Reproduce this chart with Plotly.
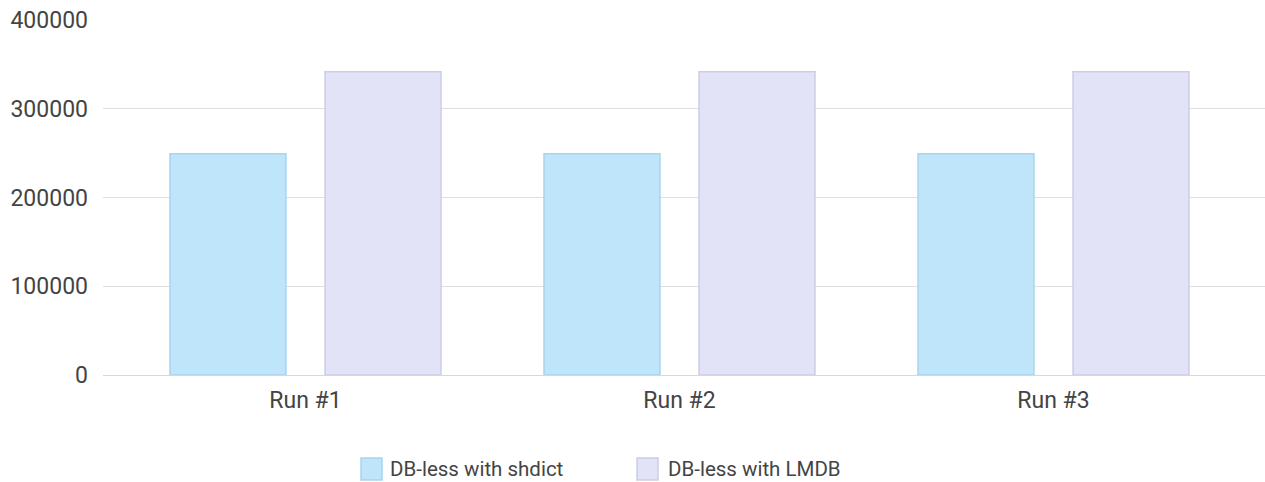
import plotly.graph_objects as go

# Benchmark runs and throughput per configuration
runs = ["Run #1", "Run #2", "Run #3"]
shdict_values = [249400, 249400, 249400]
lmdb_values = [341600, 341600, 341600]
series_names = ["DB-less with shdict", "DB-less with LMDB"]
y_ticks = [0, 100000, 200000, 300000, 400000]

fill_colors = ["#bfe5fb", "#e3e3f8"]
line_colors = ["#a9d4ee", "#cdcde6"]
font_family = "Roboto, 'Open Sans', sans-serif"
text_color = "#444444"
font_size = 23
legend_font_size = 20.5

# Plot area geometry in pixels (used for the legend placement below the plot)
W, H = 1265, 482
M_L, M_R, M_T, M_B = 103, 0, 20, 107
plot_w = W - M_L - M_R
plot_h = H - M_T - M_B


def px_to_paper_x(px):
    return (px - M_L) / plot_w


def px_to_paper_y(py):
    return (H - M_B - py) / plot_h


fig = go.Figure()
for name, vals, fc, lc in zip(series_names, [shdict_values, lmdb_values], fill_colors, line_colors):
    fig.add_trace(go.Bar(
        x=runs, y=vals, name=name,
        marker=dict(color=fc, line=dict(color=lc, width=1.5)),
        hovertemplate="%{x}<br>" + name + ": %{y}<extra></extra>",
    ))

fig.update_layout(
    width=W, height=H,
    margin=dict(l=M_L, r=M_R, t=M_T, b=M_B),
    paper_bgcolor="white", plot_bgcolor="white",
    barmode="group", bargap=0.171, bargroupgap=0.252,
    showlegend=False,
    font=dict(family=font_family, size=font_size, color=text_color),
)
fig.update_xaxes(
    range=[-0.5414, 2.5655],
    showgrid=False, showline=False, zeroline=False,
    ticks="", ticklabelstandoff=9,
    tickfont=dict(size=font_size, color=text_color),
)
fig.update_yaxes(
    range=[0, 400000], tickvals=y_ticks,
    tickformat="d",
    showgrid=True, gridcolor="#dfdfdf", gridwidth=1,
    zeroline=True, zerolinecolor="#d8d8d8", zerolinewidth=1,
    showline=False, ticks="", ticklabelstandoff=14,
    tickfont=dict(size=font_size, color=text_color),
)

# Legend: colour swatches with labels centred below the plot
swatch_x = [361, 637]
label_x = [390, 668]
for i, name in enumerate(series_names):
    x0 = swatch_x[i]
    fig.add_shape(
        type="rect", xref="paper", yref="paper",
        x0=px_to_paper_x(x0), x1=px_to_paper_x(x0 + 21),
        y0=px_to_paper_y(480), y1=px_to_paper_y(458),
        fillcolor=fill_colors[i], line=dict(color=line_colors[i], width=1.5),
    )
    fig.add_annotation(
        xref="paper", yref="paper",
        x=px_to_paper_x(label_x[i]), y=px_to_paper_y(469),
        text=name, showarrow=False, xanchor="left", yanchor="middle",
        xshift=-2,
        font=dict(size=legend_font_size, color=text_color, family=font_family),
    )

fig.write_html("out.html")
